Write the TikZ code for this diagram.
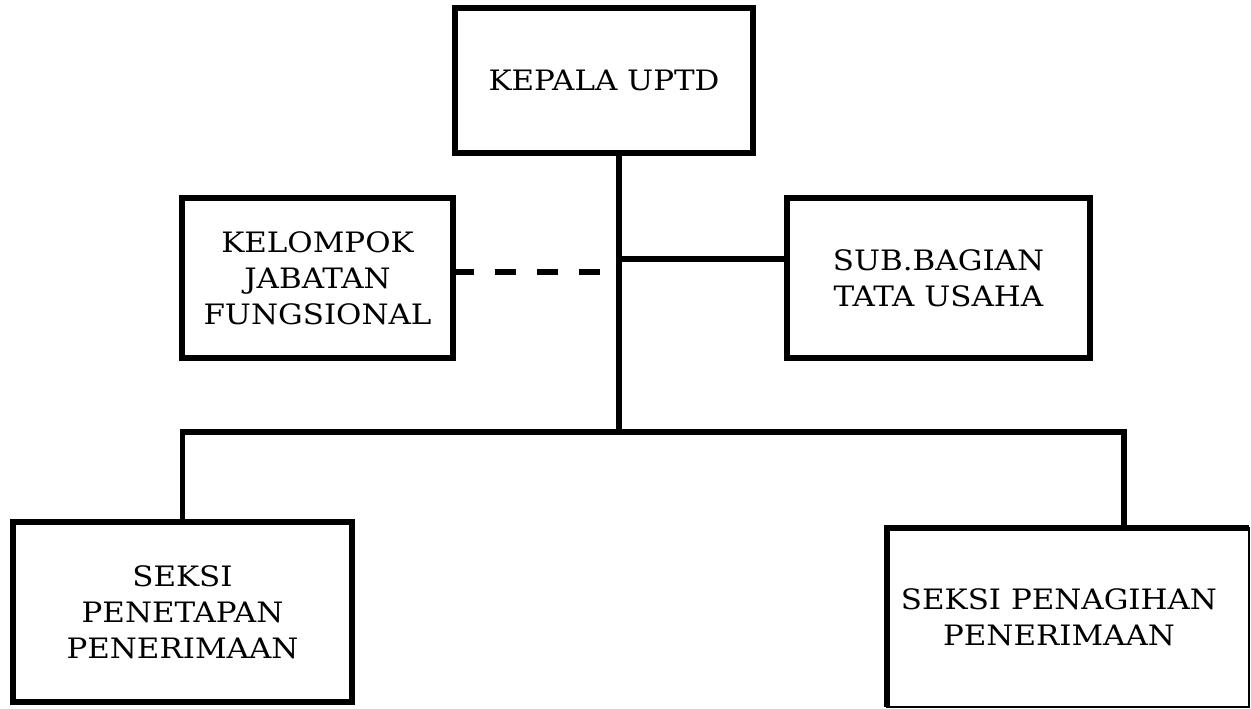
\documentclass[tikz,border=0pt]{standalone}
\usepackage{fontspec}
\setmainfont[FakeStretch=1.1]{DejaVu Serif}
\begin{document}
\begin{tikzpicture}[x=0.02cm,y=-0.02cm,line join=miter,font=\fontsize{16}{20.5}\selectfont,
	unit/.style={draw,line width=3pt,fill=white,align=center,inner sep=0pt,outer sep=0pt},
	link/.style={line width=3pt}]
	\useasboundingbox (0,0) rectangle (1251,709);
	\node[unit,minimum width=298*0.02cm,minimum height=145*0.02cm] (kepala) at (604,80.5) {KEPALA UPTD};
	\node[unit,minimum width=271*0.02cm,minimum height=160*0.02cm] (kelompok) at (317.5,278) {KELOMPOK\\JABATAN\\FUNGSIONAL};
	\node[unit,minimum width=303*0.02cm,minimum height=160*0.02cm] (subbag) at (938.5,278) {SUB.BAGIAN\\TATA USAHA};
	\node[unit,minimum width=339*0.02cm,minimum height=180*0.02cm] (penetapan) at (182.5,612) {SEKSI\\PENETAPAN\\PENERIMAAN};
	\node[unit,line width=0.6pt,minimum width=362*0.02cm,minimum height=179*0.02cm] (penagihan) at (1068,617.5) {SEKSI PENAGIHAN\hspace*{0.36cm}\\PENERIMAAN\hspace*{0.36cm}};
	\draw[link] (penagihan.south west) -- (penagihan.north west) -- (penagihan.north east);
	% trunk and branches
	\coordinate (top) at (619,153);
	\coordinate (bus) at (619,432);
	\coordinate (jr) at (619,259);
	\coordinate (kdash) at (605,272);
	\coordinate (rdrop) at (1124,432);
	\draw[link] (top |- kepala.south) -- (bus);
	\draw[link] (jr) -- (jr -| subbag.west);
	\draw[link,dash pattern=on 21*0.02cm off 21*0.02cm] (kdash -| kelompok.east) -- (kdash);
	\draw[link] (penetapan.north) -- (penetapan.north |- bus) -- (rdrop) -- (rdrop |- penagihan.north);
\end{tikzpicture}
\end{document}
